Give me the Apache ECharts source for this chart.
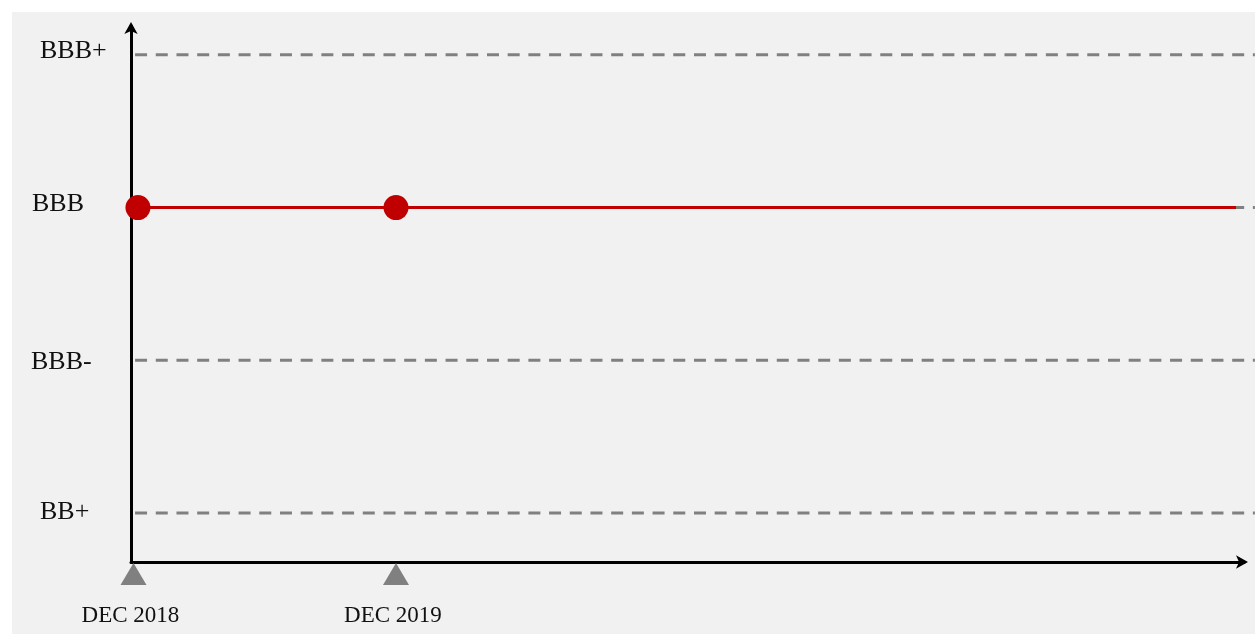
<!DOCTYPE html>
<html>
<head>
<meta charset="utf-8">
<script src="https://cdn.jsdelivr.net/npm/echarts@6/dist/echarts.min.js"></script>
<style>
html,body{margin:0;padding:0;background:#fff;}
#c{width:1255px;height:635px;}
</style>
</head>
<body>
<div id="c"></div>
<script>
// ---- data ----
const periods = ['DEC 2018', 'DEC 2019'];
const periodX = [0, 1];
const ratingLevels = ['BB+', 'BBB-', 'BBB', 'BBB+'];
const ratingPointX = [0.017, 1];
const ratingPointValues = ['BBB', 'BBB'];
const ratingLineEndX = 4.2;
const gridLineStartX = 0.006;
const gridLineEndX = 4.272;

// ---- scales ----
const pxPerX = 262.5;
const xMin = -0.0095;
const xMax = xMin + 1113 / pxPerX;      // axis grid (ends before arrow)
const xMaxWide = xMin + 1124 / pxPerX;  // full-width grid for reference lines
const yMin = -0.321, yMax = 3.189;
const font = '"Liberation Serif", "Times New Roman", serif';

const levelIndex = r => ratingLevels.indexOf(r);

const gridSeries = ratingLevels.map((r, i) => ({
  type: 'line', silent: true, showSymbol: false, symbol: 'none', z: 1,
  xAxisIndex: 1, yAxisIndex: 1,
  data: [[gridLineStartX, i], [gridLineEndX, i]],
  lineStyle: { color: '#808080', width: 3, type: [12, 8.7] }
}));

const pts = ratingPointX.map((x, i) => [x, levelIndex(ratingPointValues[i])]);
const lastLevel = levelIndex(ratingPointValues[ratingPointValues.length - 1]);

const labelRich = {
  p0: { padding: [0, 0, 2, 9] },
  p1: { padding: [4, 0, 0, 0] },
  p2: { padding: [0, 0, 7, 1] },
  p3: { padding: [0, 0, 7, 9] }
};

const option = {
  animation: false,
  graphic: [{
    type: 'rect', z: -10, silent: true,
    shape: { x: 12, y: 12, width: 1243, height: 622 },
    style: { fill: '#f1f1f1' }
  }],
  grid: [
    { left: 131, right: 11, top: 26, bottom: 73 },
    { left: 131, right: 0, top: 26, bottom: 73 }
  ],
  xAxis: [{
    type: 'value', min: xMin, max: xMax, gridIndex: 0,
    splitLine: { show: false },
    axisTick: { show: false },
    axisLine: { show: true, onZero: false, lineStyle: { color: '#000', width: 3 },
      symbol: ['none', 'arrow'], symbolSize: [10, 12], symbolOffset: [0, 4] },
    axisLabel: {
      customValues: periodX,
      formatter: v => { const i = periodX.indexOf(v); return i >= 0 ? periods[i] : ''; },
      margin: 42, color: '#111', fontFamily: font, fontSize: 23,
      align: 'center', padding: [0, 6, 0, 0]
    }
  }, {
    type: 'value', min: xMin, max: xMaxWide, gridIndex: 1, show: false
  }],
  yAxis: [{
    type: 'value', min: yMin, max: yMax, gridIndex: 0,
    splitLine: { show: false },
    axisTick: { show: false },
    axisLine: { show: true, onZero: false, lineStyle: { color: '#000', width: 3 },
      symbol: ['none', 'arrow'], symbolSize: [10, 12], symbolOffset: [0, 4] },
    axisLabel: {
      customValues: ratingLevels.map((r, i) => i),
      formatter: v => { const i = Math.round(v); return '{p' + i + '|' + ratingLevels[i] + '}'; },
      margin: 100, align: 'left', color: '#111', fontFamily: font, fontSize: 26,
      rich: labelRich
    }
  }, {
    type: 'value', min: yMin, max: yMax, gridIndex: 1, show: false
  }],
  series: [
    ...gridSeries,
    {
      type: 'line', silent: true, showSymbol: false, symbol: 'none', z: 3,
      data: [pts[0], [ratingLineEndX, lastLevel]],
      lineStyle: { color: '#c00000', width: 3 }
    },
    {
      type: 'scatter', silent: true, clip: false, z: 4,
      data: pts, symbol: 'circle', symbolSize: 25,
      itemStyle: { color: '#c00000', opacity: 1 }
    },
    {
      type: 'scatter', silent: true, clip: false, z: 4,
      data: periodX.map(x => [x, yMin]),
      symbol: 'triangle', symbolSize: [26, 22], symbolOffset: [0, 12],
      itemStyle: { color: '#808080', opacity: 1 }
    }
  ]
};
echarts.init(document.getElementById('c')).setOption(option);
</script>
</body>
</html>
